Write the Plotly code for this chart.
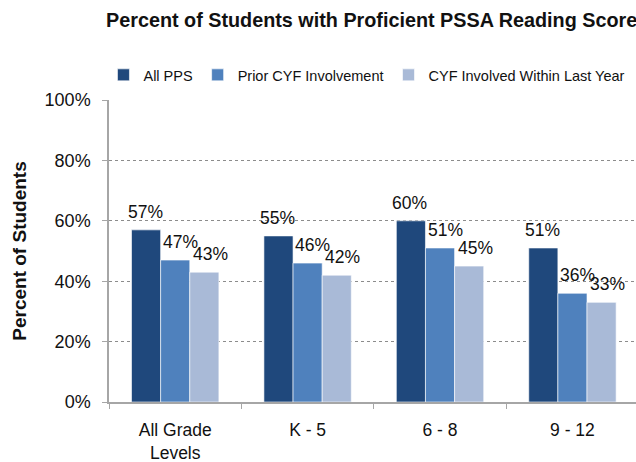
import plotly.graph_objects as go

categories = ["All Grade<br>Levels", "K - 5", "6 - 8", "9 - 12"]
series_names = ["All PPS", "Prior CYF Involvement", "CYF Involved Within Last Year"]
all_pps = [57, 55, 60, 51]
prior_cyf = [47, 46, 51, 36]
cyf_last_year = [43, 42, 45, 33]
y_ticks = [0, 20, 40, 60, 80, 100]
y_tick_labels = [f"{v}%" for v in y_ticks]
colors = ["#1F487C", "#4F81BD", "#A9BAD7"]

# styling for the value labels (pixel offsets from each bar's group slot)
bar_px = 29.1
label_dx = [-1, 5, 6]
label_dy = 6

fig = go.Figure()
series = [all_pps, prior_cyf, cyf_last_year]
for i, (name, vals, col) in enumerate(zip(series_names, series, colors)):
    fig.add_trace(go.Bar(
        name=name, x=categories, y=vals,
        marker=dict(color=col, line=dict(color="rgba(255,255,255,0.6)", width=1)),
        cliponaxis=False,
    ))
    for cat, v in zip(categories, vals):
        fig.add_annotation(
            x=cat, y=v, xref="x", yref="y", text=f"{v}%", showarrow=False,
            xanchor="center", yanchor="bottom",
            xshift=(i - 1) * bar_px + label_dx[i], yshift=label_dy,
            font=dict(family="Liberation Sans, Arial", size=17.5, color="#111111"),
        )

fig.update_layout(
    width=636, height=462,
    margin=dict(l=109, r=0, t=100, b=60, autoexpand=False),
    paper_bgcolor="white", plot_bgcolor="white",
    barmode="group", bargap=0.34, bargroupgap=0,
    font=dict(family="Liberation Sans, Arial", size=16, color="#111111"),
    title=dict(text="<b>Percent of Students with Proficient PSSA Reading Scores</b>",
               x=106 / 636, xanchor="left", xref="container", y=1 - 20 / 462,
               yanchor="middle", yref="container",
               font=dict(size=19.8, color="#111111"), automargin=False),
    legend=dict(orientation="h", x=-0.0105, xanchor="left", y=1.083, yanchor="middle",
                font=dict(size=14.5), itemwidth=30, traceorder="normal",
                bgcolor="rgba(0,0,0,0)"),
    showlegend=True,
)
fig.update_xaxes(
    range=[-0.5, 3.48], showline=True, linecolor="#a6a6a6", linewidth=2,
    ticks="outside", tickson="boundaries", ticklen=5, tickcolor="#a6a6a6",
    showgrid=False, tickfont=dict(size=17.5), automargin=False,
    ticklabelstandoff=11,
)
fig.update_yaxes(
    range=[0, 100], tickmode="array", tickvals=y_ticks, ticktext=y_tick_labels,
    showline=True, linecolor="#a6a6a6", linewidth=1.5,
    ticks="outside", ticklen=5, tickcolor="#a6a6a6",
    showgrid=True, gridcolor="#8c8c8c", griddash="dot", gridwidth=1,
    zeroline=False, tickfont=dict(size=18), automargin=False,
    ticklabelstandoff=8,
    title=dict(text="<b>Percent of Students</b>", font=dict(size=19), standoff=13),
)
fig.write_html("out.html", config={"displayModeBar": False},
               post_script="document.body.style.margin='0';document.body.style.padding='0';")
